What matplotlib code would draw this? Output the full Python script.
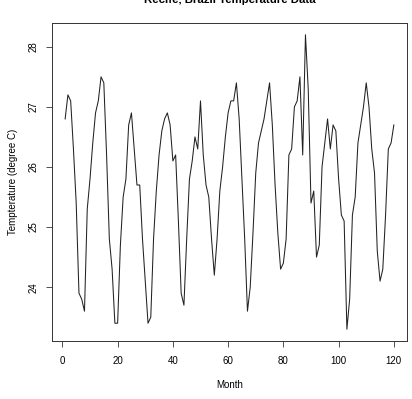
import numpy as np
import matplotlib
matplotlib.use("Agg")
import matplotlib.pyplot as plt

plt.rcParams['font.family'] = ['Liberation Sans', 'DejaVu Sans']

# monthly temperatures (months 1..120)
temps = [26.8, 27.2, 27.1, 26.3, 25.4, 23.9, 23.8, 23.6, 25.3, 25.8, 26.4, 26.9,
         27.1, 27.5, 27.4, 26.2, 24.8, 24.3, 23.4, 23.4, 24.7, 25.5, 25.8, 26.7,
         26.9, 26.3, 25.7, 25.7, 24.8, 24.1, 23.4, 23.5, 24.8, 25.6, 26.2, 26.6,
         26.8, 26.9, 26.7, 26.1, 26.2, 25.1, 23.9, 23.7, 24.8, 25.8, 26.1, 26.5,
         26.3, 27.1, 26.2, 25.7, 25.5, 24.8, 24.2, 24.8, 25.6, 26.0, 26.5, 26.9,
         27.1, 27.1, 27.4, 26.8, 25.8, 24.8, 23.6, 24.0, 24.9, 25.9, 26.4, 26.6,
         26.8, 27.1, 27.4, 26.7, 25.7, 24.9, 24.3, 24.4, 24.8, 26.2, 26.3, 27.0,
         27.1, 27.5, 26.2, 28.2, 27.3, 25.4, 25.6, 24.5, 24.7, 26.0, 26.4, 26.8,
         26.3, 26.7, 26.6, 25.8, 25.2, 25.1, 23.3, 23.8, 25.2, 25.5, 26.4, 26.7,
         27.0, 27.4, 27.0, 26.3, 25.9, 24.6, 24.1, 24.3, 25.2, 26.3, 26.4, 26.7]
months = np.arange(1, len(temps) + 1)

title = "Recife, Brazil Temperature Data"
xlab = "Month"
ylab = "Tempterature (degree C)"
xticks = [0, 20, 40, 60, 80, 100, 120]
yticks = [24, 25, 26, 27, 28]

W, H = 412, 399
fig = plt.figure(figsize=(W / 100, H / 100), dpi=100)
ax = fig.add_axes([52 / W, 1 - 341 / H, (407 - 52) / W, (341 - 23) / H])

ax.plot(months, temps, color='#222222', linewidth=0.75)

# R style 4% padding
def pad(lo, hi):
    r = hi - lo
    return lo - 0.04 * r, hi + 0.04 * r

ax.set_xlim(*pad(months.min(), months.max()))
ax.set_ylim(*pad(min(temps), max(temps)))
ax.set_xticks(xticks)
ax.set_yticks(yticks)
ax.set_yticklabels([str(v) for v in yticks], rotation=90, va='center')
ax.tick_params(axis='both', labelsize=7, length=4.5, width=0.6, color='#333333')
ax.tick_params(axis='x', pad=6)
ax.tick_params(axis='y', pad=5)
for s in ax.spines.values():
    s.set_linewidth(0.7)
    s.set_color('#333333')

fig.text(229.5 / W, 1 - 3 / H, title, ha='center', va='baseline',
         fontsize=8.2, fontweight='bold')
fig.text(229.5 / W, 1 - 385 / H, xlab, ha='center', va='center', fontsize=7)
fig.text(13 / W, 1 - 182 / H, ylab, ha='center', va='center', rotation=90, fontsize=7)

fig.savefig("out.png", dpi=100)
